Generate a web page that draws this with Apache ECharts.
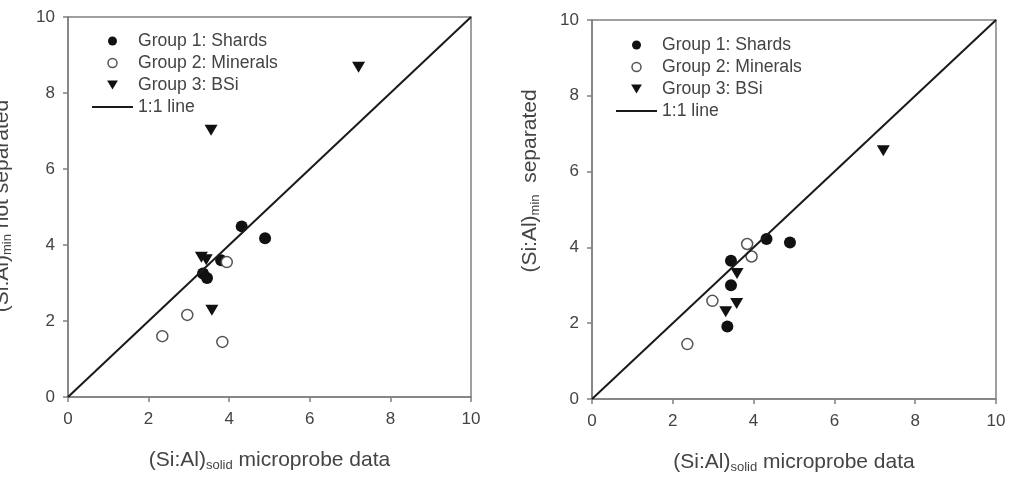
<!DOCTYPE html>
<html>
<head>
<meta charset="utf-8">
<script src="https://cdn.jsdelivr.net/npm/echarts@6/dist/echarts.min.js"></script>
<style>
  html, body { margin: 0; padding: 0; background: #fff; }
  #main { width: 1009px; height: 479px; }
</style>
</head>
<body>
<div id="main"></div>
<script>
// data: [solid, min]
var shardsLeft   = [[4.31, 4.49], [4.89, 4.18], [3.35, 3.25], [3.45, 3.13], [3.80, 3.60]];
var mineralsLeft = [[2.34, 1.60], [2.96, 2.16], [3.83, 1.45], [3.94, 3.55]];
var bsiLeft      = [[7.21, 8.68], [3.55, 7.02], [3.57, 2.28], [3.31, 3.68], [3.43, 3.61]];

var shardsRight   = [[4.32, 4.22], [4.90, 4.13], [3.44, 3.65], [3.44, 3.00], [3.35, 1.91]];
var mineralsRight = [[2.36, 1.45], [2.98, 2.59], [3.84, 4.09], [3.95, 3.76]];
var bsiRight      = [[7.21, 6.55], [3.59, 3.31], [3.58, 2.52], [3.31, 2.30]];

var oneToOne = [[0, 0], [10, 10]];
var names = ['Group 1: Shards', 'Group 2: Minerals', 'Group 3: BSi', '1:1 line'];

var font = 'Liberation Sans, Arial, sans-serif';
var tri = 'path://M0,0L12,0L6,10Z';

var chart = echarts.init(document.getElementById('main'));

var titleRich = {
    a: { fontFamily: font, fontSize: 21, color: '#444' },
    s: { fontFamily: font, fontSize: 13, color: '#444', padding: [11, 0, 0, 0] }
};

function xAxis(idx) {
    return {
        type: 'value', gridIndex: idx, min: 0, max: 10, interval: 2,
        name: '{a|(Si:Al)}{s|solid}{a| microprobe data}',
        nameLocation: 'middle', nameGap: 51,
        nameTextStyle: { rich: titleRich },
        axisLine: { show: true, onZero: false, lineStyle: { color: '#808080', width: 1.5 } },
        axisTick: { show: true, inside: false, length: 5, lineStyle: { color: '#808080', width: 1.5 } },
        axisLabel: { margin: 14, fontFamily: font, fontSize: 17, color: '#444' },
        splitLine: { show: false }
    };
}

function yAxis(idx) {
    return {
        type: 'value', gridIndex: idx, min: 0, max: 10, interval: 2,
        axisLine: { show: true, onZero: false, lineStyle: { color: '#808080', width: 1.5 } },
        axisTick: { show: true, inside: false, length: 5, lineStyle: { color: '#808080', width: 1.5 } },
        axisLabel: { margin: 13, fontFamily: font, fontSize: 17, color: '#444' },
        splitLine: { show: false }
    };
}

function panel(idx, g1, g2, g3) {
    return [
        {
            name: names[0], type: 'scatter', xAxisIndex: idx, yAxisIndex: idx,
            symbol: 'circle', symbolSize: 12,
            itemStyle: { color: '#111', opacity: 1 },
            data: g1
        },
        {
            name: names[2], type: 'scatter', xAxisIndex: idx, yAxisIndex: idx,
            symbol: tri, symbolSize: [13, 11],
            itemStyle: { color: '#111', opacity: 1 },
            data: g3
        },
        {
            name: names[3], type: 'line', xAxisIndex: idx, yAxisIndex: idx,
            symbol: 'none', silent: true,
            lineStyle: { color: '#1a1a1a', width: 2 },
            itemStyle: { color: '#1a1a1a' },
            data: oneToOne
        },
        {
            name: names[1], type: 'scatter', xAxisIndex: idx, yAxisIndex: idx,
            symbol: 'circle', symbolSize: 11,
            itemStyle: { color: '#fff', borderColor: '#555', borderWidth: 1.5, opacity: 1 },
            data: g2
        }
    ];
}

function legend(left, top) {
    return {
        orient: 'vertical', left: left, top: top,
        itemWidth: 41, itemHeight: 9, itemGap: 4,
        selectedMode: false,
        textStyle: { fontFamily: font, fontSize: 17.6, color: '#444' },
        data: [
            { name: names[0], icon: 'circle', itemStyle: { color: '#111', opacity: 1 } },
            { name: names[1], icon: 'circle', itemStyle: { color: '#fff', borderColor: '#555', borderWidth: 1.5, opacity: 1 } },
            { name: names[2], icon: tri, itemStyle: { color: '#111', opacity: 1 } },
            { name: names[3], icon: 'path://M0,0L41,0L41,2L0,2Z', itemStyle: { color: '#1a1a1a' } }
        ]
    };
}

var option = {
    animation: false,
    backgroundColor: '#fff',
    grid: [
        { left: 68, top: 17, width: 403, height: 380, show: true, borderColor: '#808080', borderWidth: 1.5 },
        { left: 592, top: 20, width: 404, height: 380, show: true, borderColor: '#808080', borderWidth: 1.5 }
    ],
    xAxis: [xAxis(0), xAxis(1)],
    yAxis: [yAxis(0), yAxis(1)],
    legend: [legend(87, 27), legend(611, 31)],
    graphic: [
        {
            type: 'text', x: 2, y: 206, rotation: Math.PI / 2,
            style: {
                text: '{a|(Si:Al)}{s|min}{a| not separated}',
                align: 'center', verticalAlign: 'middle',
                rich: {
                    a: { fontFamily: font, fontSize: 21, fill: '#444' },
                    s: { fontFamily: font, fontSize: 13, fill: '#444', padding: [11, 0, 0, 0] }
                }
            }
        },
        {
            type: 'text', x: 530, y: 181, rotation: Math.PI / 2,
            style: {
                text: '{a|(Si:Al)}{s|min}{a|  separated}',
                align: 'center', verticalAlign: 'middle',
                rich: {
                    a: { fontFamily: font, fontSize: 21, fill: '#444' },
                    s: { fontFamily: font, fontSize: 13, fill: '#444', padding: [11, 0, 0, 0] }
                }
            }
        }
    ],
    series: panel(0, shardsLeft, mineralsLeft, bsiLeft).concat(panel(1, shardsRight, mineralsRight, bsiRight))
};

chart.setOption(option, true);
</script>
</body>
</html>
